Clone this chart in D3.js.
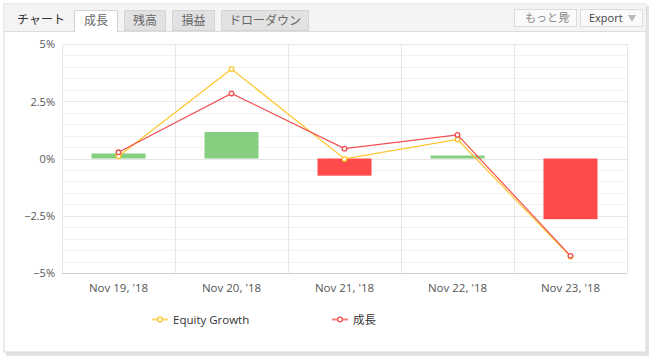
<!DOCTYPE html>
<html><head><meta charset="utf-8">
<script src="https://cdn.jsdelivr.net/npm/d3@7"></script>
<style>
body{margin:0;background:#fff;font-family:"Open Sans","Noto Sans CJK JP",sans-serif;}
</style></head>
<body>
<svg id="c" width="653" height="359"></svg>
<script>
const categories = ["Nov 19, '18","Nov 20, '18","Nov 21, '18","Nov 22, '18","Nov 23, '18"];
const barValues = [0.22, 1.16, -0.75, 0.13, -2.65];
const equityGrowth = [0.1, 3.91, -0.02, 0.83, -4.28];
const growth = [0.27, 2.84, 0.43, 1.03, -4.25];
const yTicks = [-5, -2.5, 0, 2.5, 5];
const yTickLabels = ["−5%", "−2.5%", "0%", "2.5%", "5%"];
const tabs = ["成長","残高","損益","ドローダウン"];
const seriesNames = ["Equity Growth","成長"];

const svg = d3.select("#c");
const font = "'Open Sans','Noto Sans CJK JP',sans-serif";
const cjk = "'Noto Sans CJK JP',sans-serif";

// frame shadow
svg.append("rect").attr("x",6).attr("y",6).attr("width",643).attr("height",350).attr("fill","#e4e4e4");
svg.append("rect").attr("x",4).attr("y",4).attr("width",642).attr("height",348).attr("fill","#fff").attr("stroke","#d8d8d8");
// header
svg.append("rect").attr("x",4.5).attr("y",4.5).attr("width",641).attr("height",26.5).attr("fill","#f4f4f4");
svg.append("line").attr("x1",4).attr("x2",646).attr("y1",31.5).attr("y2",31.5).attr("stroke","#dcdcdc");
svg.append("text").attr("x",17).attr("y",24).attr("font-family",cjk).attr("font-size",12).attr("fill","#333").text("チャート");
const tabX = [74,124,172,221], tabW = [43,41,42,87];
tabs.forEach((t,i)=>{
  const active = i===0;
  svg.append("rect").attr("x",tabX[i]+0.5).attr("y",10.5).attr("width",tabW[i]).attr("height",active?21:20)
    .attr("fill",active?"#fff":"#e2e2e2").attr("stroke","#d4d4d4");
  if(active) svg.append("line").attr("x1",tabX[i]+1).attr("x2",tabX[i]+tabW[i]).attr("y1",31.5).attr("y2",31.5).attr("stroke","#fff");
  svg.append("text").attr("x",tabX[i]+tabW[i]/2+0.5).attr("y",25).attr("text-anchor","middle")
    .attr("font-family",cjk).attr("font-size",12).attr("fill","#666").text(t);
});
// buttons
[[514,62,"もっと見",cjk],[580,62,"Export",font]].forEach(([x,w,t,f],i)=>{
  svg.append("rect").attr("x",x+0.5).attr("y",9.5).attr("width",w).attr("height",17).attr("fill","#fafafa").attr("stroke","#dcdcdc");
  svg.append("text").attr("x",i===0?x+11:x+9).attr("y",22).attr("font-family",f).attr("font-size",11)
    .attr("fill",i===0?"#888":"#444").text(t);
  svg.append("path").attr("d",`M${x+w-14},15 l8,0 l-4,7 z`).attr("fill","#bbb");
});

// chart
const x = d3.scaleBand().domain(categories).range([62,627]);
const y = d3.scaleLinear().domain([-5,5]).range([273,44]);
const g = svg.append("g");
// minor grid
g.selectAll(".mg").data(d3.range(-5,5.01,0.5)).join("line")
  .attr("x1",62).attr("x2",627).attr("y1",d=>Math.round(y(d))+0.5).attr("y2",d=>Math.round(y(d))+0.5)
  .attr("stroke","#f2f2f2");
g.selectAll(".Mg").data(yTicks).join("line")
  .attr("x1",62).attr("x2",627).attr("y1",d=>Math.round(y(d))+0.5).attr("y2",d=>Math.round(y(d))+0.5)
  .attr("stroke","#e6e6e6");
// vertical grid
g.selectAll(".vg").data(categories).join("line")
  .attr("x1",(d,i)=>Math.round(62+x.step()*(i+1))+0.5).attr("x2",(d,i)=>Math.round(62+x.step()*(i+1))+0.5)
  .attr("y1",44).attr("y2",273).attr("stroke","#e6e6e6");
g.append("line").attr("x1",62.5).attr("x2",62.5).attr("y1",44).attr("y2",273).attr("stroke","#e6e6e6");
// x axis line
g.append("line").attr("x1",62).attr("x2",627).attr("y1",273.5).attr("y2",273.5).attr("stroke","#c8d0d8");

// y axis labels
const yAxis = d3.axisLeft(y).tickValues(yTicks).tickSize(0).tickFormat((d,i)=>yTickLabels[i]);
const ya = svg.append("g").attr("transform","translate(58,0)").call(yAxis);
ya.select(".domain").remove();
ya.selectAll("text").attr("font-family",font).attr("font-size",11).attr("fill","#555").attr("dy","0.35em");
// x axis labels
const xAxis = d3.axisBottom(x).tickSize(0);
const xa = svg.append("g").attr("transform","translate(0,273)").call(xAxis);
xa.select(".domain").remove();
xa.selectAll("text").attr("font-family",font).attr("font-size",11.5).attr("fill","#555").attr("dy","16");

// bars
const bw = 54;
g.selectAll(".bar").data(barValues).join("rect")
  .attr("x",(d,i)=>x(categories[i])+x.bandwidth()/2-bw/2)
  .attr("y",d=>y(Math.max(0,d))).attr("width",bw)
  .attr("height",d=>Math.abs(y(d)-y(0)))
  .attr("fill",d=>d>=0?"#86cf80":"#ff4a4c");

// lines
const cx = i=>x(categories[i])+x.bandwidth()/2;
const line = d3.line().x((d,i)=>cx(i)).y(d=>y(d));
const series = [[equityGrowth,"#fec52b"],[growth,"#f24d4f"]];
series.forEach(([data,col])=>{
  g.append("path").attr("d",line(data)).attr("fill","none").attr("stroke",col).attr("stroke-width",1.2);
  g.selectAll(null).data(data).join("circle").attr("cx",(d,i)=>cx(i)).attr("cy",d=>y(d)).attr("r",2.3)
    .attr("fill","#fff").attr("stroke",col).attr("stroke-width",1.3);
});

// legend
const legX = [152,332];
series.forEach(([data,col],i)=>{
  svg.append("line").attr("x1",legX[i]).attr("x2",legX[i]+16).attr("y1",319.5).attr("y2",319.5).attr("stroke",col).attr("stroke-width",2).attr("opacity",0.7);
  svg.append("circle").attr("cx",legX[i]+8).attr("cy",319.5).attr("r",2.3).attr("fill","#fff").attr("stroke",col).attr("stroke-width",1.3);
  svg.append("text").attr("x",legX[i]+21).attr("y",323.5).attr("font-family",i===1?cjk:font).attr("font-size",11.5).attr("fill","#333").text(seriesNames[i]);
});
</script>
</body></html>
